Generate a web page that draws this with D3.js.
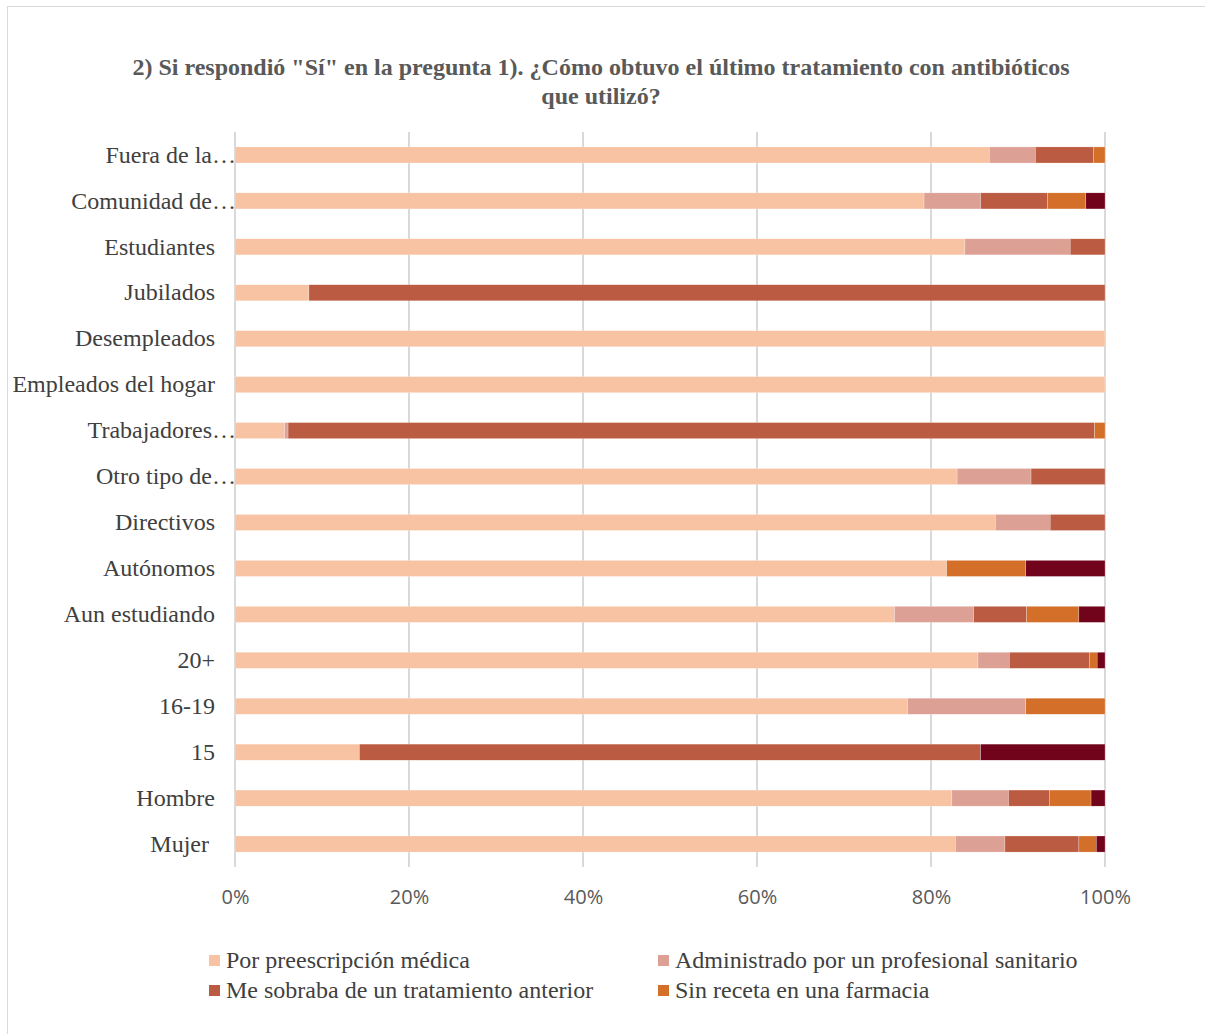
<!DOCTYPE html>
<html>
<head>
<meta charset="utf-8">
<script src="https://cdn.jsdelivr.net/npm/d3@7"></script>
<style>
  html, body { margin: 0; padding: 0; background: #fff; }
  svg { display: block; }
</style>
</head>
<body>
<div id="chart"></div>
<script>
// Categories, listed top to bottom
const categories = [
  "Fuera de la…", "Comunidad de…", "Estudiantes", "Jubilados", "Desempleados",
  "Empleados del hogar", "Trabajadores…", "Otro tipo de…", "Directivos", "Autónomos",
  "Aun estudiando", "20+", "16-19", "15", "Hombre", "Mujer "
];

// Series names (the fifth is drawn but has no legend entry)
const seriesNames = [
  "Por preescripción médica",
  "Administrado por un profesional sanitario",
  "Me sobraba de un tratamiento anterior",
  "Sin receta en una farmacia",
  "Otros"
];

// Percent values per category, same order as categories
const prescripcion = [86.7, 79.2, 83.9, 8.5, 100, 100, 5.7, 83.0, 87.4, 81.8, 75.8, 85.4, 77.3, 14.3, 82.4, 82.8];
const administrado = [5.3, 6.5, 12.1, 0, 0, 0, 0.4, 8.5, 6.3, 0, 9.1, 3.6, 13.6, 0, 6.5, 5.7];
const sobraba      = [6.7, 7.7, 4.0, 91.5, 0, 0, 92.7, 8.5, 6.3, 0, 6.1, 9.2, 0, 71.4, 4.7, 8.5];
const sinReceta    = [1.3, 4.4, 0, 0, 0, 0, 1.2, 0, 0, 9.1, 6.0, 0.9, 9.1, 0, 4.8, 2.0];
const otros        = [0, 2.2, 0, 0, 0, 0, 0, 0, 0, 9.1, 3.0, 0.9, 0, 14.3, 1.6, 1.0];

const tickValues = [0, 0.2, 0.4, 0.6, 0.8, 1.0];

const colors = ["#F7C3A3", "#DDA095", "#BB5B41", "#D36F29", "#71031B"];

const seriesArrays = [prescripcion, administrado, sobraba, sinReceta, otros];
const keys = ["s0", "s1", "s2", "s3", "s4"];
const rows = categories.map((c, i) => {
  const r = { cat: c };
  const total = d3.sum(seriesArrays, a => a[i]);
  keys.forEach((k, j) => { r[k] = seriesArrays[j][i] / total; });
  return r;
});

const W = 1205, H = 1034;
const svg = d3.select("#chart").append("svg").attr("width", W).attr("height", H);

// Chart frame
svg.append("rect").attr("x", 7.5).attr("y", 6.5).attr("width", W - 7).attr("height", H - 6)
  .attr("fill", "#fff").attr("stroke", "#d9d9d9").attr("stroke-width", 1);

const serif = "'Liberation Serif', 'Times New Roman', serif";

// Title
const title = svg.append("text").attr("text-anchor", "middle")
  .attr("font-family", serif)
  .attr("font-weight", "bold").attr("font-size", 24).attr("fill", "#595959");
title.append("tspan").attr("x", 601).attr("y", 75).text("2) Si respondió \"Sí\" en la pregunta 1). ¿Cómo obtuvo el último tratamiento con antibióticos");
title.append("tspan").attr("x", 601).attr("y", 104).text("que utilizó?");

const m = { left: 235, right: 1105, top: 132, bottom: 867 };

const x = d3.scaleLinear().domain([0, 1]).range([m.left, m.right]);
const y = d3.scaleBand().domain(categories).range([m.top, m.bottom]).paddingInner(0.65).paddingOuter(0.325);

// Vertical gridlines
svg.append("g").selectAll("line").data(tickValues).join("line")
  .attr("x1", d => x(d)).attr("x2", d => x(d))
  .attr("y1", m.top).attr("y2", m.bottom)
  .attr("stroke", "#d9d9d9").attr("stroke-width", 2);

// Stacked bars
const stack = d3.stack().keys(keys)(rows);
svg.append("g").selectAll("g").data(stack).join("g")
  .attr("fill", (d, i) => colors[i])
  .selectAll("rect").data(d => d).join("rect")
  .attr("x", d => x(d[0]))
  .attr("y", d => y(d.data.cat))
  .attr("width", d => Math.max(0, x(d[1]) - x(d[0])))
  .attr("height", y.bandwidth())
  .attr("stroke", "#fff").attr("stroke-width", 0.4).attr("stroke-opacity", 0.6);

// Category axis labels
const yAxis = d3.axisLeft(y).tickSize(0).tickPadding(20);
const gy = svg.append("g").attr("transform", `translate(${m.left},0)`).call(yAxis);
gy.select(".domain").remove();
gy.selectAll("text")
  .attr("font-family", serif)
  .attr("font-size", 24).attr("fill", "#404040")
  .style("white-space", "pre")
  .attr("dx", function (d) { return d.endsWith("…") ? 21 : 0; });

// Percent axis labels
const xAxis = d3.axisBottom(x).tickValues(tickValues).tickFormat(d3.format(".0%")).tickSize(0).tickPadding(23);
const gx = svg.append("g").attr("transform", `translate(0,${m.bottom})`).call(xAxis);
gx.select(".domain").remove();
gx.selectAll("text")
  .attr("font-family", "'Open Sans', 'Liberation Sans', sans-serif")
  .attr("font-size", 20).attr("fill", "#595959");

// Legend (first four series)
const legendPos = [[209, 960], [658, 960], [209, 990], [658, 990]];
const lg = svg.append("g").selectAll("g").data(seriesNames.slice(0, 4)).join("g")
  .attr("transform", (d, i) => `translate(${legendPos[i][0]},${legendPos[i][1]})`);
lg.append("rect").attr("x", 0).attr("y", -5).attr("width", 11).attr("height", 11)
  .attr("fill", (d, i) => colors[i]);
lg.append("text").attr("x", 17).attr("y", 8)
  .attr("font-family", serif)
  .attr("font-size", 24).attr("fill", "#404040").text(d => d);
</script>
</body>
</html>
